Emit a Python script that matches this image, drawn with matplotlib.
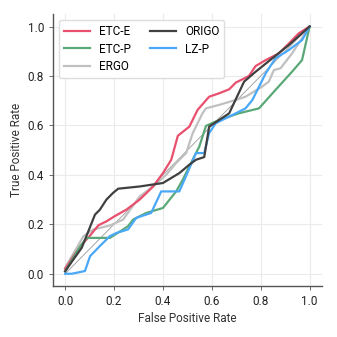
import matplotlib
matplotlib.use('Agg')
import matplotlib.pyplot as plt

plt.rcParams['font.family'] = ['Roboto', 'DejaVu Sans']

etc_e_fpr = [0, 0.034, 0.068, 0.10, 0.136, 0.169, 0.203, 0.25, 0.305, 0.36, 0.40, 0.434, 0.461,
             0.508, 0.542, 0.589, 0.63, 0.671, 0.698, 0.752, 0.779, 0.82, 0.874, 0.915, 0.955, 1.0]
etc_e_tpr = [0.02, 0.071, 0.118, 0.152, 0.196, 0.212, 0.233, 0.259, 0.30, 0.353, 0.407, 0.461, 0.558,
             0.595, 0.663, 0.716, 0.73, 0.746, 0.773, 0.80, 0.84, 0.864, 0.891, 0.931, 0.972, 1.0]

etc_p_fpr = [0, 0.061, 0.088, 0.142, 0.183, 0.237, 0.257, 0.278, 0.332, 0.40, 0.454, 0.481, 0.515,
             0.549, 0.576, 0.63, 0.711, 0.793, 0.86, 0.928, 0.969, 1.0]
etc_p_tpr = [0.01, 0.11, 0.145, 0.145, 0.145, 0.179, 0.192, 0.219, 0.246, 0.266, 0.333, 0.38, 0.448,
             0.515, 0.598, 0.622, 0.649, 0.669, 0.743, 0.817, 0.864, 1.0]

ergo_fpr = [0, 0.075, 0.115, 0.183, 0.237, 0.305, 0.36, 0.413, 0.454, 0.495, 0.522, 0.562, 0.576,
            0.63, 0.698, 0.738, 0.806, 0.833, 0.854, 0.881, 0.928, 1.0]
ergo_tpr = [0.024, 0.152, 0.179, 0.195, 0.219, 0.313, 0.353, 0.40, 0.448, 0.488, 0.569, 0.649, 0.669,
            0.683, 0.703, 0.716, 0.757, 0.777, 0.824, 0.831, 0.891, 1.0]

origo_fpr = [0, 0.034, 0.068, 0.122, 0.142, 0.169, 0.196, 0.217, 0.305, 0.40, 0.467, 0.508, 0.535,
             0.569, 0.589, 0.63, 0.671, 0.732, 0.779, 0.847, 0.915, 1.0]
origo_tpr = [0.01, 0.058, 0.105, 0.239, 0.259, 0.30, 0.327, 0.344, 0.353, 0.367, 0.407, 0.441, 0.461,
             0.472, 0.595, 0.622, 0.649, 0.777, 0.817, 0.871, 0.925, 1.0]

lzp_fpr = [0, 0.027, 0.081, 0.102, 0.142, 0.183, 0.21, 0.257, 0.291, 0.352, 0.393, 0.467, 0.488,
           0.535, 0.569, 0.589, 0.616, 0.684, 0.738, 0.766, 0.82, 0.86, 0.915, 0.969, 1.0]
lzp_tpr = [0, 0, 0.011, 0.071, 0.112, 0.152, 0.165, 0.179, 0.226, 0.246, 0.333, 0.333, 0.38,
           0.488, 0.488, 0.569, 0.609, 0.642, 0.669, 0.703, 0.81, 0.871, 0.905, 0.945, 1.0]

fig = plt.figure(figsize=(3.37, 3.37), dpi=100)
ax = fig.add_axes([0.157, 0.151, 0.798, 0.807])

ax.plot([0, 1], [0, 1], color='#999999', lw=0.6, zorder=1)
ax.plot(etc_e_fpr, etc_e_tpr, color='#e8506e', lw=1.6, label='ETC-E', zorder=3)
ax.plot(etc_p_fpr, etc_p_tpr, color='#5aa878', lw=1.6, label='ETC-P', zorder=3)
ax.plot(ergo_fpr, ergo_tpr, color='#c0c0c0', lw=1.6, label='ERGO', zorder=2)
ax.plot(origo_fpr, origo_tpr, color='#404040', lw=1.6, label='ORIGO', zorder=4)
ax.plot(lzp_fpr, lzp_tpr, color='#4aa8f8', lw=1.6, label='LZ-P', zorder=3)

ax.set_xlim(-0.05, 1.05)
ax.set_ylim(-0.05, 1.05)
ticks = [0.0, 0.2, 0.4, 0.6, 0.8, 1.0]
ax.set_xticks(ticks)
ax.set_yticks(ticks)
ax.tick_params(labelsize=8.5, length=3, width=0.6, color='#555555', labelcolor='#222222')
ax.grid(color='#ebebeb', lw=0.8)
ax.set_axisbelow(True)
for s in ['top', 'right']:
    ax.spines[s].set_visible(False)
for s in ['left', 'bottom']:
    ax.spines[s].set_color('#555555')
    ax.spines[s].set_linewidth(1.0)

ax.set_xlabel('False Positive Rate', fontsize=8.5, color='#333333', labelpad=3)
ax.set_ylabel('True Positive Rate', fontsize=8.5, color='#333333', labelpad=3)

ax.legend(loc='upper left', ncol=2, fontsize=8.5, frameon=True, framealpha=1,
          edgecolor='#dddddd', borderpad=0.4, labelspacing=0.4, handlelength=2.2,
          columnspacing=1.6, bbox_to_anchor=(0.0, 1.0))

fig.savefig('out.png', dpi=100)
